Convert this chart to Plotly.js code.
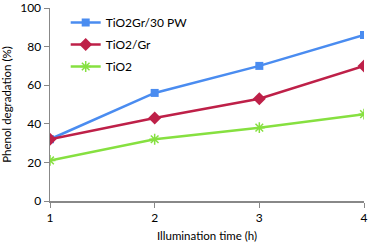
<!DOCTYPE html>
<html><head><meta charset="utf-8">
<script src="https://cdn.plot.ly/plotly-3.0.1.min.js"></script>
<style>html,body{margin:0;padding:0;background:#fff}#c{width:371px;height:246px}</style>
</head><body><div id="c"></div>
<script>
const times = [1, 2, 3, 4];
const seriesNames = ["TiO2Gr/30 PW", "TiO2/Gr", "TiO2"];
const pwValues = [32, 56, 70, 86];
const grValues = [32, 43, 53, 70];
const tio2Values = [21, 32, 38, 45];
const xTicks = [1, 2, 3, 4];
const yTicks = [0, 20, 40, 60, 80, 100];

const font = "Lato, 'Open Sans', sans-serif";
const traces = [
  {x: times, y: pwValues, name: seriesNames[0], legendgroup: "a", mode: "lines+markers",
   line: {color: "#4A8CF0", width: 2.5}, marker: {symbol: "square", size: 8, color: "#4A8CF0"}},
  {x: times, y: grValues, name: seriesNames[1], legendgroup: "b", mode: "lines+markers",
   line: {color: "#BE2048", width: 2.5}, marker: {symbol: "diamond", size: 10, color: "#BE2048"}},
  {x: times, y: tio2Values, name: seriesNames[2], legendgroup: "c", mode: "lines+markers",
   line: {color: "#86E040", width: 2.5}, marker: {symbol: "asterisk-open", size: 9, color: "#86E040", line: {color: "#86E040", width: 1.5}}}
];
const layout = {
  width: 371, height: 246,
  margin: {l: 50, r: 7, t: 8, b: 45},
  paper_bgcolor: "#fff", plot_bgcolor: "#fff",
  font: {family: font, size: 12, color: "#000"},
  showlegend: true,
  legend: {x: 0.05, y: 1.0, xanchor: "left", yanchor: "top", bgcolor: "rgba(0,0,0,0)",
           font: {family: font, size: 12}, tracegroupgap: 3, itemwidth: 30},
  xaxis: {range: [1, 4], tickvals: xTicks, ticktext: xTicks.map(String), showgrid: false, zeroline: false,
          showline: true, linecolor: "#888", linewidth: 1.5, ticks: "outside", ticklen: 5, tickcolor: "#888",
          tickfont: {family: font, size: 12}, ticklabeloverflow: "allow",
          title: {text: "Illumination time (h)", font: {family: font, size: 11.5}, standoff: 8}},
  yaxis: {range: [0, 100], tickvals: yTicks, showgrid: false, zeroline: false,
          showline: true, linecolor: "#888", linewidth: 1.5, ticks: "outside", ticklen: 5, tickcolor: "#888",
          tickfont: {family: font, size: 12}, ticklabeloverflow: "allow",
          title: {text: "Phenol degradation (%)", font: {family: font, size: 11.5}, standoff: 6}}
};
Plotly.newPlot("c", traces, layout, {displayModeBar: false, staticPlot: true});
</script></body></html>
